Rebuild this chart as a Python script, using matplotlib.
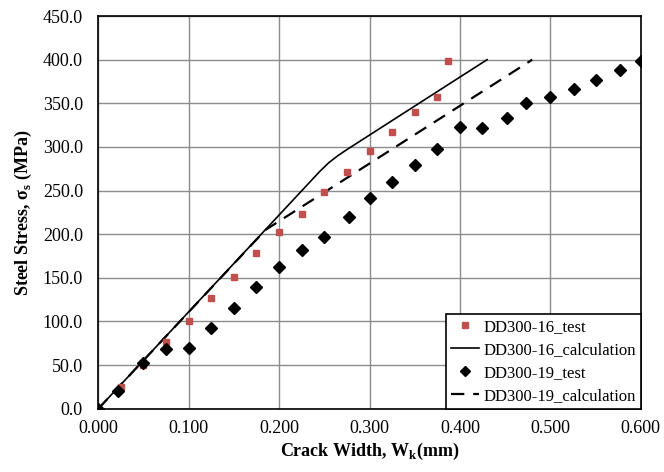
import matplotlib
matplotlib.use("Agg")
import matplotlib.pyplot as plt
from matplotlib.ticker import FormatStrFormatter, MultipleLocator

plt.rcParams["font.family"] = ["Liberation Serif", "DejaVu Serif"]
plt.rcParams["mathtext.fontset"] = "custom"
plt.rcParams["mathtext.rm"] = "Liberation Serif"
plt.rcParams["mathtext.bf"] = "Liberation Serif:bold"

# DD300-16 test points (crack width mm, steel stress MPa)
w16_test = [0.0, 0.025, 0.05, 0.075, 0.1, 0.125, 0.15, 0.175, 0.2, 0.225,
            0.25, 0.275, 0.3, 0.325, 0.35, 0.375, 0.387]
s16_test = [0, 25, 50, 76, 100, 127, 151, 178, 203, 223,
            248, 271, 295, 317, 340, 357, 399]

# DD300-16 calculation curve
w16_calc = [0.0, 0.1, 0.2, 0.245, 0.255, 0.265, 0.275, 0.43]
s16_calc = [0, 111, 222, 272, 282, 290, 297, 400]

# DD300-19 test points
w19_test = [0.0, 0.022, 0.05, 0.075, 0.1, 0.125, 0.15, 0.175, 0.2, 0.225,
            0.25, 0.277, 0.3, 0.325, 0.35, 0.375, 0.4, 0.424, 0.452, 0.473,
            0.5, 0.526, 0.551, 0.577, 0.6]
s19_test = [0, 20, 52, 68, 70, 92, 116, 140, 162, 182,
            197, 220, 241, 260, 279, 298, 323, 322, 333, 350,
            357, 366, 377, 388, 399]

# DD300-19 calculation curve
w19_calc = [0.0, 0.185, 0.48]
s19_calc = [0, 205, 400]

fig = plt.figure(figsize=(6.64, 4.72), dpi=100)
ax = fig.add_axes([0.148, 0.134, 0.817, 0.832])

ax.plot(w16_test, s16_test, "s", color="#C0504D", markersize=5,
        label="DD300-16_test", zorder=3)
ax.plot(w16_calc, s16_calc, "-", color="black", linewidth=1.2,
        label="DD300-16_calculation", zorder=2)
ax.plot(w19_test, s19_test, "D", color="black", markersize=6.5,
        label="DD300-19_test", zorder=4)
ax.plot(w19_calc, s19_calc, "--", color="black", linewidth=1.6,
        dashes=(6, 4), label="DD300-19_calculation", zorder=2)

ax.set_xlim(0, 0.6)
ax.set_ylim(0, 450)
ax.xaxis.set_major_locator(MultipleLocator(0.1))
ax.yaxis.set_major_locator(MultipleLocator(50))
ax.xaxis.set_major_formatter(FormatStrFormatter("%.3f"))
ax.yaxis.set_major_formatter(FormatStrFormatter("%.1f"))
ax.tick_params(length=0, labelsize=13)
ax.tick_params(axis="x", pad=8)
ax.tick_params(axis="y", pad=11)
ax.grid(True, color="#8c8c8c", linewidth=1)
ax.set_axisbelow(True)
for sp in ax.spines.values():
    sp.set_color("black")
    sp.set_linewidth(1.2)

ax.set_xlabel("Crack Width, W$_\\mathbf{k}$(mm)", fontsize=13,
              fontweight="bold", labelpad=3)
ax.set_ylabel("Steel Stress, σ$_\\mathbf{s}$ (MPa)", fontsize=13,
              fontweight="bold", labelpad=6)

leg = ax.legend(loc="lower right", borderaxespad=0, fontsize=12,
                fancybox=False, framealpha=1, edgecolor="black",
                handlelength=1.7, handletextpad=0.25, borderpad=0.3,
                labelspacing=0.42, markerscale=0.8)
leg.get_frame().set_linewidth(1.2)

fig.savefig("out.png", dpi=100)
